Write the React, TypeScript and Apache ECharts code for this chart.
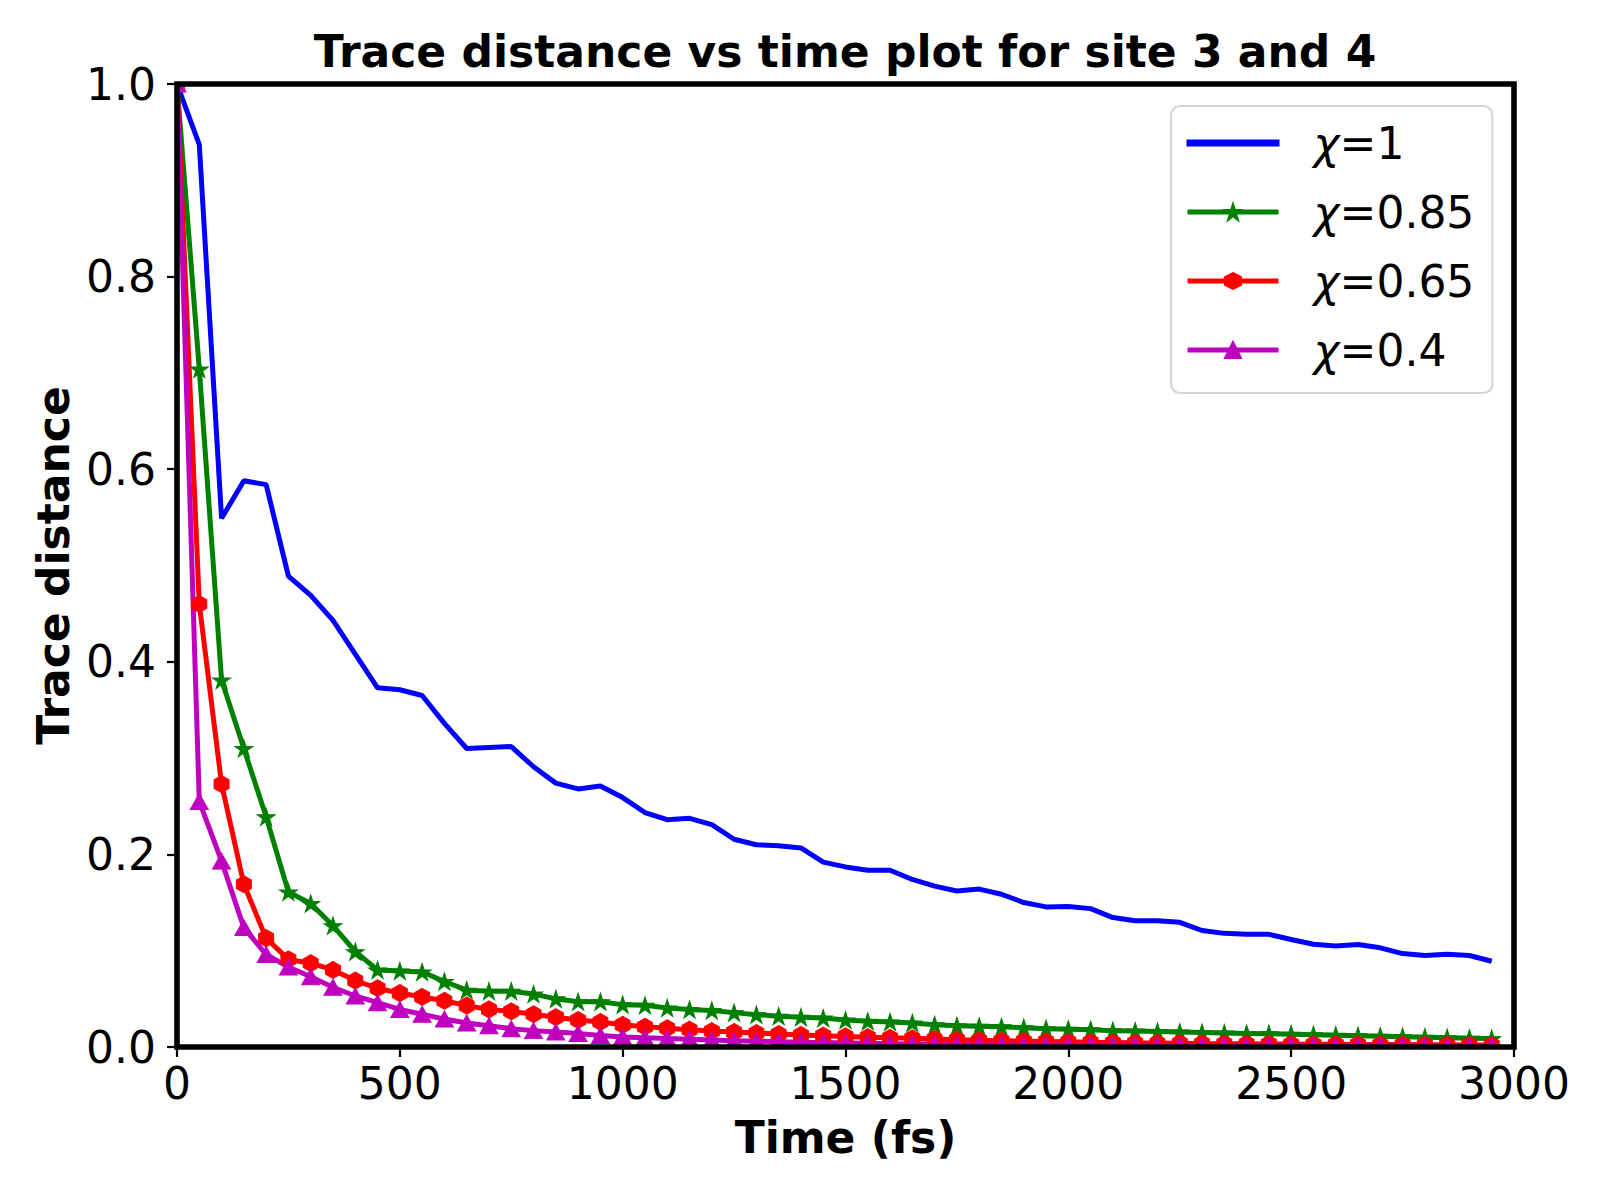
import React, { useEffect, useRef } from 'react';
import * as echarts from 'echarts';

const FONT = 'DejaVu Sans';

const time = [
  0, 50, 100, 150, 200, 250, 300, 350, 400, 450,
  500, 550, 600, 650, 700, 750, 800, 850, 900, 950,
  1000, 1050, 1100, 1150, 1200, 1250, 1300, 1350, 1400, 1450,
  1500, 1550, 1600, 1650, 1700, 1750, 1800, 1850, 1900, 1950,
  2000, 2050, 2100, 2150, 2200, 2250, 2300, 2350, 2400, 2450,
  2500, 2550, 2600, 2650, 2700, 2750, 2800, 2850, 2900, 2950,
];

const chi100 = [
  1.0, 0.937, 0.549, 0.588, 0.584, 0.489, 0.469, 0.443, 0.408, 0.373,
  0.371, 0.365, 0.336, 0.31, 0.311, 0.312, 0.291, 0.274, 0.268, 0.271,
  0.259, 0.2435, 0.236, 0.2375, 0.231, 0.2157, 0.21, 0.209, 0.2067, 0.192,
  0.187, 0.1835, 0.1835, 0.174, 0.167, 0.162, 0.164, 0.1586, 0.15, 0.1455,
  0.146, 0.1437, 0.1344, 0.131, 0.131, 0.1295, 0.121, 0.118, 0.117, 0.117,
  0.1116, 0.1067, 0.105, 0.1064, 0.103, 0.097, 0.095, 0.0963, 0.095, 0.089,
];

const chi085 = [
  1.0, 0.704, 0.381, 0.31, 0.239, 0.161, 0.149, 0.126, 0.099, 0.08,
  0.079, 0.078, 0.068, 0.059, 0.058, 0.058, 0.055, 0.05, 0.047, 0.047,
  0.044, 0.0433, 0.0405, 0.039, 0.038, 0.0357, 0.0336, 0.032, 0.031, 0.03,
  0.028, 0.0267, 0.026, 0.025, 0.023, 0.022, 0.0215, 0.021, 0.02, 0.019,
  0.0185, 0.018, 0.017, 0.0165, 0.016, 0.0155, 0.015, 0.0145, 0.014, 0.0138,
  0.0133, 0.0128, 0.0122, 0.0117, 0.0112, 0.0107, 0.0102, 0.0097, 0.0092, 0.0087,
];

const chi065 = [
  1.0, 0.46, 0.273, 0.169, 0.113, 0.091, 0.087, 0.08, 0.069, 0.061,
  0.056, 0.052, 0.048, 0.043, 0.039, 0.037, 0.034, 0.031, 0.028, 0.026,
  0.023, 0.021, 0.0195, 0.018, 0.0165, 0.0155, 0.0145, 0.0135, 0.0125, 0.0118,
  0.011, 0.0102, 0.0095, 0.009, 0.0082, 0.0076, 0.007, 0.0066, 0.0062, 0.0058,
  0.0054, 0.005, 0.0047, 0.0044, 0.0042, 0.004, 0.0037, 0.0035, 0.0034, 0.0032,
  0.003, 0.0029, 0.0028, 0.0027, 0.0026, 0.0025, 0.0024, 0.0023, 0.0022, 0.0021,
];

const chi040 = [
  1.0, 0.255, 0.193, 0.124, 0.096, 0.083, 0.073, 0.062, 0.053, 0.046,
  0.039, 0.034, 0.029, 0.025, 0.022, 0.019, 0.017, 0.0155, 0.014, 0.012,
  0.0105, 0.0095, 0.0087, 0.008, 0.0072, 0.0066, 0.006, 0.0055, 0.005, 0.0046,
  0.0042, 0.0038, 0.0035, 0.0032, 0.003, 0.0028, 0.0026, 0.0024, 0.0022, 0.0021,
  0.002, 0.0019, 0.0018, 0.0017, 0.0016, 0.0016, 0.0015, 0.0015, 0.0014, 0.0014,
  0.0013, 0.0013, 0.0012, 0.0012, 0.0012, 0.0011, 0.0011, 0.0011, 0.001, 0.001,
];

const seriesNames = ['χ=1', 'χ=0.85', 'χ=0.65', 'χ=0.4'];
const seriesColors = ['#0000ff', '#008000', '#ff0000', '#bf00bf'];

const STAR =
  'path://M0,-1 L0.2245,-0.309 L0.9511,-0.309 L0.3633,0.118 L0.5878,0.809 L0,0.382 L-0.5878,0.809 L-0.3633,0.118 L-0.9511,-0.309 L-0.2245,-0.309 Z';
const HEX = 'path://M0,-1 L0.866,-0.5 L0.866,0.5 L0,1 L-0.866,0.5 L-0.866,-0.5 Z';
const LINE_ICON = 'path://M0,0 L91,0 L91,5 L0,5 Z';

const GRID = { left: 177, top: 84, width: 1337, height: 963 };
const LW = 5;

function pairs(vals: number[]) {
  return time.map((t, i) => [t, vals[i]]);
}

export default function App() {
  const ref = useRef<HTMLDivElement>(null);

  useEffect(() => {
    if (!ref.current) return;
    const chart = echarts.init(ref.current, undefined, { renderer: 'svg' });
    const symbols: any[] = ['none', STAR, HEX, 'triangle'];
    const sizes: any[] = [0, [18, 17], [15, 17], [18, 16]];
    const dataSets = [chi100, chi085, chi065, chi040];

    const series = dataSets.map((d, i) => ({
      name: seriesNames[i],
      type: 'line',
      data: pairs(d),
      symbol: symbols[i],
      symbolSize: sizes[i],
      showSymbol: i !== 0,
      showAllSymbol: true,
      lineStyle: { color: seriesColors[i], width: LW },
      itemStyle: { color: seriesColors[i], borderColor: seriesColors[i], borderWidth: 1 },
      emphasis: { disabled: true },
      z: 2,
    }));

    const option: any = {
      animation: false,
      backgroundColor: '#ffffff',
      textStyle: { fontFamily: FONT },
      grid: { ...GRID, containLabel: false },
      xAxis: {
        type: 'value',
        min: 0,
        max: 3000,
        interval: 500,
        z: 70,
        name: 'Time (fs)',
        nameLocation: 'middle',
        nameGap: 68,
        nameTextStyle: { fontFamily: FONT, fontSize: 44, fontWeight: 'bold', color: '#000' },
        axisLine: { show: false },
        axisTick: { show: true, length: 10, lineStyle: { color: '#000', width: 2.2 } },
        axisLabel: {
          fontFamily: FONT,
          fontSize: 44,
          color: '#000',
          margin: 14,
          formatter: (v: number) => String(v),
        },
        splitLine: { show: false },
      },
      yAxis: {
        type: 'value',
        min: 0,
        max: 1,
        interval: 0.2,
        z: 70,
        name: 'Trace distance',
        nameLocation: 'middle',
        nameGap: 101,
        nameTextStyle: { fontFamily: FONT, fontSize: 44, fontWeight: 'bold', color: '#000' },
        axisLine: { show: false },
        axisTick: { show: true, length: 10, lineStyle: { color: '#000', width: 2.2 } },
        axisLabel: {
          fontFamily: FONT,
          fontSize: 44,
          color: '#000',
          margin: 21,
          formatter: (v: number) => v.toFixed(1),
        },
        splitLine: { show: false },
      },
      legend: {
        orient: 'vertical',
        left: 1171,
        top: 106,
        z: 80,
        padding: [13, 18, 19, 14],
        itemWidth: 91,
        itemHeight: 20,
        itemGap: 21,
        backgroundColor: 'rgba(255,255,255,0.8)',
        borderColor: '#d6d6d6',
        borderWidth: 2.2,
        borderRadius: 9,
        lineStyle: { width: LW },
        data: [
          { name: seriesNames[0], icon: LINE_ICON },
          seriesNames[1],
          seriesNames[2],
          seriesNames[3],
        ],
        formatter: (name: string) => '{i|χ}{n|' + name.slice(1) + '}',
        textStyle: {
          fontFamily: FONT,
          fontSize: 44,
          color: '#000',
          lineHeight: 48,
          padding: [0, 0, 0, 30],
          rich: {
            i: { fontFamily: FONT, fontSize: 44, fontStyle: 'italic', color: '#000', lineHeight: 48 },
            n: { fontFamily: FONT, fontSize: 44, color: '#000', lineHeight: 48 },
          },
        },
      },
      graphic: [
        {
          type: 'text',
          x: 845,
          y: 51,
          z: 90,
          style: {
            text: 'Trace distance vs time plot for site 3 and 4',
            font: 'bold 44px "DejaVu Sans"',
            fill: '#000',
            textAlign: 'center',
            textVerticalAlign: 'middle',
          },
        },
        {
          type: 'rect',
          z: 50,
          shape: { x: 160, y: 70, width: GRID.left - 160, height: 1000 },
          style: { fill: '#ffffff' },
          silent: true,
        },
        {
          type: 'rect',
          z: 50,
          shape: { x: 160, y: GRID.top + GRID.height, width: 1370, height: 10 },
          style: { fill: '#ffffff' },
          silent: true,
        },
        {
          type: 'rect',
          z: 50,
          shape: { x: 160, y: 72, width: 120, height: GRID.top - 72 },
          style: { fill: '#ffffff' },
          silent: true,
        },
        {
          type: 'rect',
          z: 60,
          shape: { x: GRID.left, y: GRID.top, width: GRID.width, height: GRID.height },
          style: { fill: 'none', stroke: '#000', lineWidth: 5.6 },
          silent: true,
        },
      ],
      series,
    };

    chart.setOption(option);
    return () => chart.dispose();
  }, []);

  return (
    <div
      ref={ref}
      style={{ position: 'absolute', left: 0, top: 0, width: 1600, height: 1200, background: '#fff' }}
    />
  );
}
